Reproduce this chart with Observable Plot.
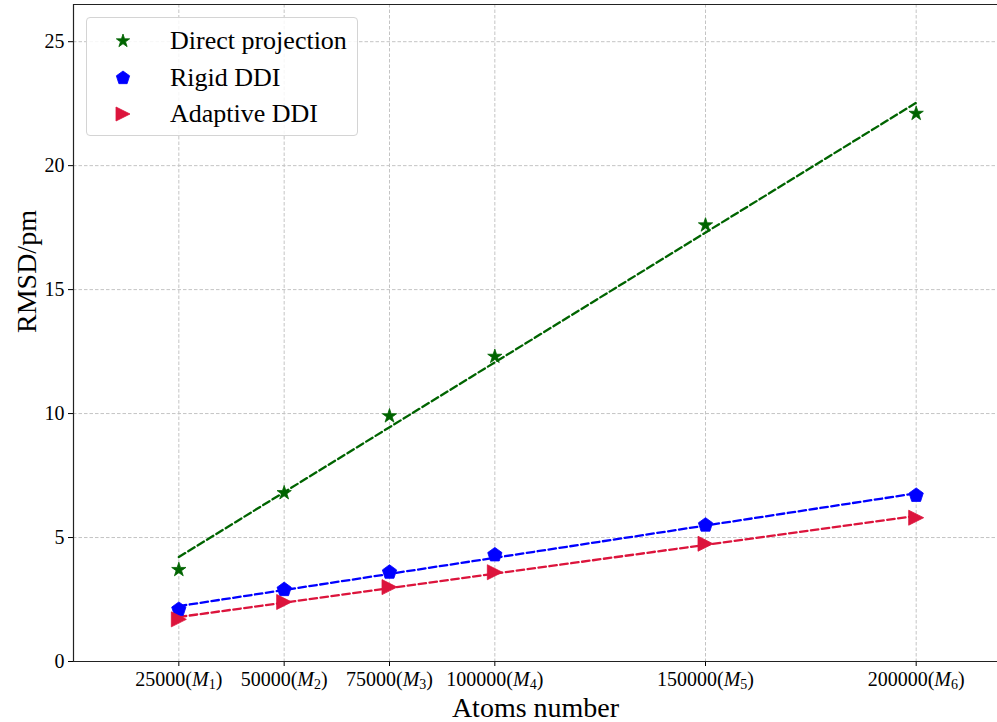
<!DOCTYPE html>
<html>
<head>
<meta charset="utf-8">
<script src="https://cdn.jsdelivr.net/npm/d3@7"></script>
<script src="https://cdn.jsdelivr.net/npm/@observablehq/plot@0.6"></script>
<style>
  html, body { margin: 0; padding: 0; background: #fff; }
  #wrap { position: relative; width: 997px; height: 722px; font-family: "Liberation Serif", "Times New Roman", serif; }
  #legend { position: absolute; left: 86px; top: 17px; width: 272px; height: 119px; box-sizing: border-box;
            border: 1px solid #d4d4d4; border-radius: 4px; background: rgba(255,255,255,0.85); }
  .lg-item { position: absolute; left: 0; height: 30px; width: 270px; }
  .lg-item svg { position: absolute; left: 26px; top: 5px; }
  .lg-item span { position: absolute; left: 83px; top: 0px; font-size: 26px; line-height: 30px; color: #000; white-space: nowrap; }
</style>
</head>
<body>
<div id="wrap"></div>
<script>
// ---- data ----
const atoms = [25000, 50000, 75000, 100000, 150000, 200000];
const modelNames = ["M1", "M2", "M3", "M4", "M5", "M6"];
const directProjection = [3.7, 6.8, 9.9, 12.3, 17.6, 22.1];
const rigidDDI = [2.1, 2.9, 3.6, 4.3, 5.5, 6.7];
const adaptiveDDI = [1.7, 2.4, 3.0, 3.6, 4.75, 5.8];
const yTicks = [0, 5, 10, 15, 20, 25];
const seriesNames = ["Direct projection", "Rigid DDI", "Adaptive DDI"];
const seriesColors = ["#006400", "#0000ff", "#dc143c"];

// ---- custom symbols (matplotlib-like) ----
const starSym = { draw(ctx, size) {
  const R = Math.sqrt(size / Math.PI), r = R * 0.381966;
  for (let i = 0; i < 10; i++) {
    const a = -Math.PI / 2 + i * Math.PI / 5, rr = i % 2 ? r : R;
    const x = rr * Math.cos(a), y = rr * Math.sin(a);
    i ? ctx.lineTo(x, y) : ctx.moveTo(x, y);
  }
  ctx.closePath();
}};
const pentSym = { draw(ctx, size) {
  const R = Math.sqrt(size / Math.PI);
  for (let i = 0; i < 5; i++) {
    const a = -Math.PI / 2 + i * 2 * Math.PI / 5;
    const x = R * Math.cos(a), y = R * Math.sin(a);
    i ? ctx.lineTo(x, y) : ctx.moveTo(x, y);
  }
  ctx.closePath();
}};
const triSym = { draw(ctx, size) {
  const R = Math.sqrt(size / Math.PI);
  ctx.moveTo(R, 0); ctx.lineTo(-R, -R); ctx.lineTo(-R, R); ctx.closePath();
}};
const symbols = [starSym, pentSym, triSym];
const sizes = [7.5, 7.5, 7.5];

const seriesValues = [directProjection, rigidDDI, adaptiveDDI];
const tables = seriesValues.map((vals, k) => atoms.map((x, i) => ({x, y: vals[i], series: seriesNames[k]})));

const labelOf = new Map(atoms.map((a, i) => [a, `${a}(${modelNames[i]})`]));

const marks = [
  Plot.gridX(atoms, {stroke: "#c4c4c4", strokeOpacity: 1, strokeDasharray: "3.5,2"}),
  Plot.gridY(yTicks, {stroke: "#c4c4c4", strokeOpacity: 1, strokeDasharray: "3.5,2"}),
  Plot.axisY({ticks: yTicks, tickSize: 5, tickPadding: 4, fontSize: 20, label: null}),
  Plot.axisX({ticks: atoms, tickSize: 5, tickPadding: 5, fontSize: 20, label: null, tickFormat: d => labelOf.get(d)}),
  Plot.ruleX([0], {stroke: "#222", strokeWidth: 1.2}),
  Plot.ruleY([0], {stroke: "#222", strokeWidth: 1.2}),
  Plot.ruleY([26.5], {stroke: "#222", strokeWidth: 1.2}),
];
tables.forEach((t, k) => {
  marks.push(Plot.linearRegressionY(t, {x: "x", y: "y", stroke: seriesColors[k], strokeWidth: 2.3, strokeDasharray: "7.5,3.5", ci: 0}));
});
tables.forEach((t, k) => {
  marks.push(Plot.dot(t, {x: "x", y: "y", symbol: symbols[k], fill: seriesColors[k], stroke: seriesColors[k], strokeWidth: 0.8, r: sizes[k]}));
});
marks.push(Plot.text(["Atoms number"], {frameAnchor: "bottom", dy: 47, fontSize: 28, lineAnchor: "middle", fill: "#000"}));
marks.push(Plot.text(["RMSD/pm"], {frameAnchor: "left", dx: -46, rotate: -90, fontSize: 28, lineAnchor: "middle", fill: "#000"}));

const chart = Plot.plot({
  width: 997,
  height: 722,
  marginLeft: 73,
  marginRight: 0,
  marginTop: 4,
  marginBottom: 61,
  style: {fontFamily: "'Liberation Serif', 'Times New Roman', serif", color: "#000", background: "#fff"},
  x: {domain: [0, 219300]},
  y: {domain: [0, 26.5]},
  marks
});

// italic M with subscript in x tick labels
d3.select(chart).selectAll('g[aria-label="x-axis tick label"] text').each(function() {
  const t = d3.select(this);
  const s = t.text();
  const m = s.match(/^(\d+)\(M(\d)\)$/);
  if (!m) return;
  t.text(null);
  t.append("tspan").text(m[1] + "(");
  t.append("tspan").attr("font-style", "italic").text("M");
  t.append("tspan").attr("font-size", 14).attr("dy", 3).text(m[2]);
  t.append("tspan").attr("dy", -3).text(")");
});

const wrap = document.getElementById("wrap");
wrap.appendChild(chart);

// legend (markers only, as in the reference)
const legend = document.createElement("div");
legend.id = "legend";
const rowTops = [8, 45, 81];
seriesNames.forEach((name, k) => {
  const item = document.createElement("div");
  item.className = "lg-item";
  item.style.top = rowTops[k] + "px";
  const path = d3.path();
  symbols[k].draw(path, Math.PI * 7 * 7);
  item.innerHTML = `<svg width="20" height="20" viewBox="-10 -10 20 20"><path d="${path.toString()}" fill="${seriesColors[k]}" stroke="${seriesColors[k]}" stroke-width="0.8"/></svg><span>${name}</span>`;
  legend.appendChild(item);
});
wrap.appendChild(legend);
</script>
</body>
</html>
